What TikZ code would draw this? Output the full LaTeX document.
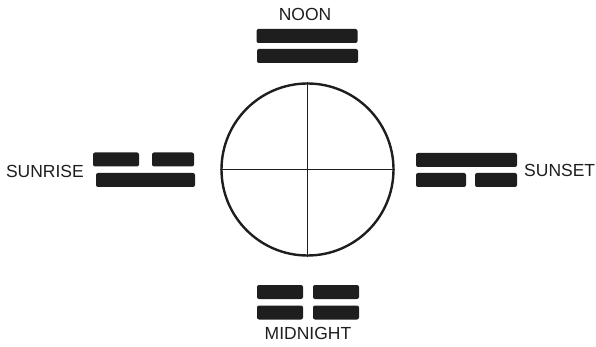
\documentclass[tikz,border=0pt]{standalone}
\usepackage{fontspec}
\setmainfont{Liberation Sans}
\usepackage{xcolor}
\usepackage{tikz}
\usetikzlibrary{positioning}
\definecolor{ink}{HTML}{1E1E1E}

\begin{document}
\begin{tikzpicture}[x=1pt,y=-1pt,
  font=\fontsize{17.5}{20}\selectfont,
  bar/.style={fill=ink,rounded corners=2pt,inner sep=0pt,minimum height=14pt},
  full/.style={bar,minimum width=101pt},
  half/.style={bar,minimum width=46pt},
  tag/.style={inner sep=0pt,text=ink}]
\useasboundingbox (0,0) rectangle (596,347);
% clock face
\node[circle,draw=ink,line width=2.4pt,minimum size=172pt,inner sep=0pt] (clock) at (307.5,169.5) {};
\draw[ink,line width=0.9pt] (clock.north) -- (clock.south);
\draw[ink,line width=0.9pt] (clock.west) -- (clock.east);
% noon
\node[tag] (noon) at (305,14) {NOON};
\node[full] (n1) at (307,36) {};
\node[full] (n2) at (307.5,56) {};
% sunrise
\node[tag,anchor=east] (rise) at (84,171) {SUNRISE};
\node[half] (r1) at (116,159.5) {};
\node[bar,minimum width=42pt] (r2) at (173,159.5) {};
\node[full,minimum width=99pt] (r3) at (145.5,180) {};
% sunset
\node[tag,anchor=west] (set) at (524,170) {SUNSET};
\node[full] (s1) at (466.5,160) {};
\node[bar,minimum width=50pt] (s2) at (441,180) {};
\node[bar,minimum width=42pt] (s3) at (496,180) {};
% midnight
\node[half] (m1) at (280,292) {};
\node[half] (m2) at (336,292) {};
\node[half] (m3) at (280,312.5) {};
\node[half] (m4) at (336,312.5) {};
\node[tag] (night) at (308,333) {MIDNIGHT};
\end{tikzpicture}
\end{document}
